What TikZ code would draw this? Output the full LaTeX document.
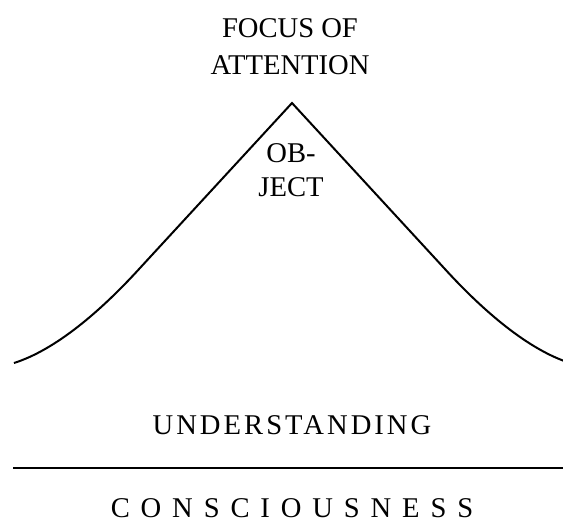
\documentclass[tikz,border=0pt]{standalone}
\usepackage{fontspec}
\setmainfont{Liberation Serif}
\usepackage{tikz}
\usetikzlibrary{positioning}
\tikzset{
    label/.style={inner sep=0pt, anchor=base, align=center, font=\fontsize{14.3}{17}\selectfont},
    spaced/.style={label, font=\fontsize{14.3}{17}\selectfont\addfontfeature{LetterSpace=#1}},
    curve/.style={line width=1pt, line join=miter},
}

\begin{document}
\begin{tikzpicture}
        [x=0.5pt, y=-0.5pt]

        \useasboundingbox (0,0) rectangle (563,525);
        \clip (0,0) rectangle (563,525);

        % the peak of attention
        \coordinate (peak) at (292,103);
        \draw[curve] (14,363) .. controls (55,350) and (100,312) .. (140,268)
            -- (peak) -- (444,268)
            .. controls (484,312) and (529,350) .. (570,363);

        % base anchor sits on the last line
        \node[label, font=\fontsize{14.3}{18.5}\selectfont] (focus) at (290,74) {FOCUS OF\\ATTENTION};
        \node[label] (object) at (291,196) {OB-\\JECT};

        \node[spaced=10.6] (understanding) at (292,434) {UNDERSTANDING};
        \draw[line width=1pt] (13,468) coordinate (left) -- (563,468) coordinate (right);
        \node[spaced=38] (consciousness) at (292,517) {CONSCIOUSNESS};

    \end{tikzpicture}
\end{document}
